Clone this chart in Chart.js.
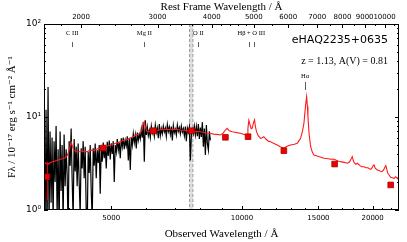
<!DOCTYPE html>
<html><head><meta charset="utf-8">
<script src="https://cdn.jsdelivr.net/npm/chart.js@4.4.0/dist/chart.umd.min.js"></script>
<style>html,body{margin:0;padding:0;background:#fff;overflow:hidden}canvas{display:block}</style>
</head><body>
<canvas id="c" width="407" height="242"></canvas>
<script>
const REDSHIFT = 1.13;
const objectName = 'eHAQ2235+0635';
const infoText = 'z = 1.13, A(V) = 0.81';
const xMin = 3500, xMax = 23000;
const yMin = 1, yMax = 100;
const obsTicks = [5000, 10000, 15000, 20000];
const obsTickLabels = ['5000', '10000', '15000', '20000'];
const obsMinorTicks = [4000, 6000, 7000, 8000, 9000, 11000, 12000, 13000, 14000, 16000, 17000, 18000, 19000, 21000, 22000];
const restTicks = [2000, 3000, 4000, 5000, 6000, 7000, 8000, 9000, 10000];
const restTickLabels = ['2000', '3000', '4000', '5000', '6000', '7000', '8000', '9000', '10000'];
const restMinorTicks = [1800, 2200, 2400, 2600, 2800, 3200, 3400, 3600, 3800, 4200, 4400, 4600, 4800, 5500, 6500, 7500, 8500, 9500, 10500];
const yTicks = [1, 10, 100];
const yTickLabels = ['10\u2070', '10\u00b9', '10\u00b2'];
const yMinorTicks = [2, 3, 4, 5, 6, 7, 8, 9, 20, 30, 40, 50, 60, 70, 80, 90];

const specWave = [3501,3520,3538,3557,3576,3595,3614,3634,3653,3673,3692,3712,3732,3752,3772,3792,3812,3832,3853,3873,3894,3915,3936,3957,3978,3999,4020,4042,4063,4085,4107,4129,4151,4173,4195,4218,4240,4263,4285,4308,4331,4354,4378,4401,4424,4448,4472,4496,4520,4544,4568,4592,4617,4641,4666,4691,4716,4741,4766,4792,4817,4843,4869,4895,4921,4947,4973,5000,5027,5053,5080,5107,5135,5162,5190,5217,5245,5273,5301,5329,5358,5386,5415,5444,5473,5502,5531,5561,5590,5620,5650,5680,5710,5741,5771,5802,5833,5864,5895,5927,5958,5990,6022,6054,6086,6118,6151,6184,6217,6250,6283,6316,6350,6384,6418,6452,6486,6521,6555,6590,6625,6661,6696,6732,6768,6804,6840,6876,6913,6950,6987,7024,7061,7099,7137,7175,7213,7251,7290,7329,7368,7407,7446,7486,7526,7566,7606,7647,7687,7728,7769,7811,7852,7894,7936,7978,8021,8063,8106,8149,8193,8236,8280,8324,8369,8413,8458];
const specFlux = [9.5,0.6,12,0.5,21,0.7,7,1.2,6,0.8,5.5,2.0,8,0.9,4.5,0.6,7,1.6,5,0.7,6.5,1.8,4.5,2.4,0.6,5.5,3.0,7.5,2.2,0.8,5.8,2.6,4.8,1.8,5.2,2.0,0.9,4.6,2.8,5.5,2.2,4.8,1.0,0.6,4.2,2.5,5.0,1.6,0.8,4.6,3.0,5.2,2.2,4.4,3.2,5.0,1.5,4.8,3.3,5.3,3.6,4.9,2.8,5.4,3.8,5.6,3.5,5.2,4.0,5.5,2.0,5.0,4.2,5.8,4.4,5.3,3.6,5.9,4.8,6.0,4.5,5.6,4.9,6.2,3.4,5.9,2.7,6.1,5.0,6.6,5.3,6.4,4.6,6.8,5.6,6.5,5.8,7.4,6.0,8.8,3.3,9.2,6.4,7.8,6.3,7.2,6.0,8.0,6.7,7.3,6.2,8.2,6.8,7.6,5.9,8.4,6.3,7.5,6.6,8.0,6.9,7.6,6.2,8.3,7.0,7.8,6.5,7.9,5.6,8.1,6.8,7.4,6.4,8.2,7.0,7.7,6.6,8.0,6.9,7.5,6.3,7.9,5.5,7.6,6.8,7.8,3.4,6.5,7.4,6.6,8.0,6.4,7.9,6.2,8.4,5.8,7.7,6.1,8.8,4.8,7.5,3.9,8.2,5.2,4.4,7.0,5.6];

const modelWave = [3501,3540,3580,3614,3660,3700,3740,3771,3820,3870,3914,3960,4000,4030,4045,4065,4100,4150,4194,4250,4300,4350,4400,4450,4500,4543,4600,4650,4715,4780,4850,4920,4997,5060,5120,5180,5243,5300,5350,5442,5530,5619,5700,5780,5832,5880,5920,5957,5990,6030,6086,6150,6230,6300,6385,6450,6530,6600,6732,6850,6950,7100,7250,7350,7488,7600,7700,7850,8023,8150,8300,8460,8600,8750,8922,9050,9150,9246,9350,9495,9650,9800,9924,10100,10283,10320,10371,10440,10500,10560,10640,10690,10740,10804,10900,11036,11130,11231,11350,11500,11637,11850,12059,12250,12490,12700,12943,13200,13410,13550,13648,13780,13892,13960,14017,14092,14150,14190,14280,14397,14520,14651,14900,15200,15452,15800,16000,16293,16500,16700,16884,17200,17497,17700,17850,17950,18050,18121,18300,18451,18700,18900,19110,19300,19500,19650,19800,19950,20050,20150,20280,20520,20800,21000,21200,21350,21450,21550,21700,21825,22000,22200,22410,22600,22800,23000,23100];
const modelFlux = [3.30,3.15,3.12,3.22,3.30,3.35,3.40,3.45,3.52,3.58,3.65,3.85,4.40,5.10,5.35,4.90,4.40,4.25,4.20,4.25,4.30,4.28,4.22,4.35,4.40,4.38,4.45,4.55,4.62,4.68,4.80,4.90,5.00,5.10,5.22,5.30,5.40,5.55,5.62,5.76,5.95,6.14,6.35,6.55,6.70,7.20,8.30,8.90,7.90,7.10,6.90,7.00,7.15,7.05,7.12,7.25,7.35,7.30,7.38,7.30,7.38,7.35,7.20,7.25,7.10,7.05,6.95,7.00,6.95,6.80,6.70,6.68,6.55,6.50,6.40,6.70,7.20,7.56,7.10,6.95,6.85,6.75,6.68,6.50,6.40,7.50,9.20,8.20,7.50,7.60,8.80,9.30,7.90,6.95,6.30,5.90,6.00,6.14,5.80,5.50,5.42,5.20,5.00,4.80,4.61,4.85,5.00,5.10,5.21,5.60,5.90,7.00,8.56,11.0,13.5,16.5,13.0,10.1,6.50,4.79,4.20,3.90,3.80,3.70,3.60,3.55,3.52,3.51,3.42,3.35,3.31,3.25,3.18,3.30,3.55,3.74,3.40,3.25,3.10,3.18,3.00,2.92,2.92,2.85,2.85,2.78,2.74,2.85,3.00,3.05,2.80,2.69,2.62,2.58,2.70,2.90,3.00,2.75,2.45,2.38,2.25,2.22,2.19,2.28,2.18,2.30,2.35];

const photWave = [3552, 4790, 6250, 7650, 9160, 10330, 12490, 16350, 22010];
const photFlux = [2.28, 4.64, 7.12, 7.12, 6.05, 6.14, 4.34, 3.12, 1.86];
const photErrLo = [1.28, 4.55, 7.05, 7.05, 5.98, 6.07, 4.28, 3.07, 1.82];
const photErrHi = [3.30, 4.73, 7.19, 7.19, 6.12, 6.21, 4.40, 3.17, 1.90];

const lineNames = ['C III', 'Mg II', 'O II', 'H\u03b2 + O III', 'H\u03b1'];
const lineRestWave = [[1909], [2798], [3727], [4861, 5007], [6563]];
const telluricBand = [7575, 7710];

const toXY = (w, f) => w.map((v, i) => ({x: v, y: f[i]}));
const SERIF = '"Liberation Serif", "DejaVu Serif", serif';
const SANS = '"DejaVu Sans", sans-serif';

const decor = {
  id: 'decor',
  beforeDatasetsDraw(chart) {
    const {ctx, chartArea: a, scales: {x}} = chart;
    const l = x.getPixelForValue(telluricBand[0]), r = x.getPixelForValue(telluricBand[1]);
    ctx.save();
    ctx.fillStyle = 'rgba(200,200,200,0.6)';
    ctx.fillRect(l, a.top, r - l, a.bottom - a.top);
    ctx.strokeStyle = '#9a9a9a'; ctx.lineWidth = 1; ctx.setLineDash([3, 2]);
    [l, r].forEach(p => { ctx.beginPath(); ctx.moveTo(p, a.top); ctx.lineTo(p, a.bottom); ctx.stroke(); });
    ctx.restore();
  },
  afterDatasetDraw(chart, args) {
    if (args.index !== 1) return;
    const {ctx, scales: {x, y}} = chart;
    ctx.save();
    ctx.strokeStyle = '#e00000'; ctx.lineWidth = 1;
    photWave.forEach((w, i) => {
      const px = Math.round(x.getPixelForValue(w)) + 0.5;
      ctx.beginPath();
      ctx.moveTo(px, y.getPixelForValue(photErrLo[i]));
      ctx.lineTo(px, y.getPixelForValue(photErrHi[i]));
      ctx.stroke();
    });
    ctx.restore();
  },
  afterDraw(chart) {
    const {ctx, chartArea: a, scales: {x, x2, y}} = chart;
    ctx.save();
    ctx.strokeStyle = '#000'; ctx.lineWidth = 1;
    ctx.strokeRect(a.left + 0.5, a.top + 0.5, a.right - a.left - 1, a.bottom - a.top - 1);
    const vt = (scale, vals, len, fromTop) => vals.forEach(v => {
      const p = Math.round(scale.getPixelForValue(v)) + 0.5;
      if (p < a.left || p > a.right) return;
      ctx.beginPath();
      if (fromTop) { ctx.moveTo(p, a.top); ctx.lineTo(p, a.top + len); }
      else { ctx.moveTo(p, a.bottom); ctx.lineTo(p, a.bottom - len); }
      ctx.stroke();
    });
    vt(x, obsTicks, 4, false); vt(x, obsMinorTicks, 2, false);
    vt(x2, restTicks, 4, true); vt(x2, restMinorTicks, 2, true);
    const ht = (vals, len) => vals.forEach(v => {
      const p = Math.round(y.getPixelForValue(v)) + 0.5;
      ctx.beginPath(); ctx.moveTo(a.left, p); ctx.lineTo(a.left + len, p); ctx.stroke();
      ctx.beginPath(); ctx.moveTo(a.right, p); ctx.lineTo(a.right - len, p); ctx.stroke();
    });
    ht(yTicks, 4); ht(yMinorTicks, 2);
    ctx.fillStyle = '#000'; ctx.textAlign = 'center'; ctx.textBaseline = 'middle';
    ctx.font = '6.5px ' + SERIF;
    lineNames.forEach((n, i) => {
      const obs = lineRestWave[i].map(w => w * (1 + REDSHIFT));
      const pxs = obs.map(w => x.getPixelForValue(w));
      const low = i === 4;
      const ly = y.getPixelForValue(low ? 27.6 : 80);
      const t0 = y.getPixelForValue(low ? 23.8 : 64);
      const t1 = y.getPixelForValue(low ? 19.5 : 56.5);
      const cx = pxs.reduce((s, v) => s + v, 0) / pxs.length;
      ctx.fillText(n, cx, ly);
      ctx.lineWidth = 0.8; ctx.strokeStyle = '#333';
      pxs.forEach(p => { ctx.beginPath(); ctx.moveTo(Math.round(p) + 0.5, t0); ctx.lineTo(Math.round(p) + 0.5, t1); ctx.stroke(); });
    });
    ctx.textAlign = 'right';
    ctx.font = '11px ' + SANS;
    ctx.fillText(objectName, a.right - 11, 40);
    ctx.font = '10px ' + SERIF;
    ctx.fillText(infoText, a.right - 11, 61);
    ctx.restore();
  }
};

new Chart(document.getElementById('c'), {
  type: 'line',
  data: {
    datasets: [
      {label: 'photometry', data: toXY(photWave, photFlux), showLine: false, pointStyle: 'rect',
       pointRadius: 4, pointBackgroundColor: '#ee0000', pointBorderColor: '#aa0000', pointBorderWidth: 0.8, order: 0},
      {label: 'model', data: toXY(modelWave, modelFlux), borderColor: '#ff1a1a', borderWidth: 1.1,
       pointRadius: 0, tension: 0, order: 1},
      {label: 'spectrum', data: toXY(specWave, specFlux), borderColor: '#000', borderWidth: 1.2,
       pointRadius: 0, tension: 0, order: 2}
    ]
  },
  options: {
    responsive: false, animation: false, devicePixelRatio: 1,
    layout: {padding: {left: 0, right: 8, top: 0, bottom: 0}},
    plugins: {legend: {display: false}, tooltip: {enabled: false}},
    scales: {
      x: {
        type: 'logarithmic', position: 'bottom', min: xMin, max: xMax,
        grid: {display: false, drawTicks: false}, border: {display: false},
        afterBuildTicks: s => { s.ticks = obsTicks.map(v => ({value: v, major: true})); },
        afterFit: s => { s.height = 32; },
        ticks: {font: {family: SANS, size: 7}, color: '#000', padding: 4, maxRotation: 0, autoSkip: false,
                callback: (v, i) => obsTickLabels[i]},
        title: {display: true, text: 'Observed Wavelength / \u00c5', font: {family: SERIF, size: 11}, color: '#000', padding: {top: 0, bottom: 1.5}}
      },
      x2: {
        type: 'logarithmic', position: 'top', min: xMin / (1 + REDSHIFT), max: xMax / (1 + REDSHIFT),
        grid: {display: false, drawTicks: false}, border: {display: false},
        afterBuildTicks: s => { s.ticks = restTicks.map(v => ({value: v, major: true})); },
        afterFit: s => { s.height = 24; },
        ticks: {font: {family: SANS, size: 7}, color: '#000', padding: 2.5, maxRotation: 0, autoSkip: false,
                callback: (v, i) => restTickLabels[i]},
        title: {display: true, text: 'Rest Frame Wavelength / \u00c5', font: {family: SERIF, size: 11}, color: '#000', padding: {top: 1, bottom: 0}}
      },
      y: {
        type: 'logarithmic', position: 'left', min: yMin, max: yMax,
        grid: {display: false, drawTicks: false}, border: {display: false},
        afterBuildTicks: s => { s.ticks = yTicks.map(v => ({value: v, major: true})); },
        afterFit: s => { s.width = 44; },
        ticks: {font: {family: SANS, size: 9}, color: '#000', padding: 3, autoSkip: false,
                callback: (v, i) => yTickLabels[i]},
        title: {display: true, text: 'F\u03bb / 10\u207b\u00b9\u2077 erg s\u207b\u00b9 cm\u207b\u00b2 \u00c5\u207b\u00b9', font: {family: SERIF, size: 11}, color: '#000', padding: {top: 6, bottom: 0}}
      }
    }
  },
  plugins: [decor]
});
</script>
</body></html>
